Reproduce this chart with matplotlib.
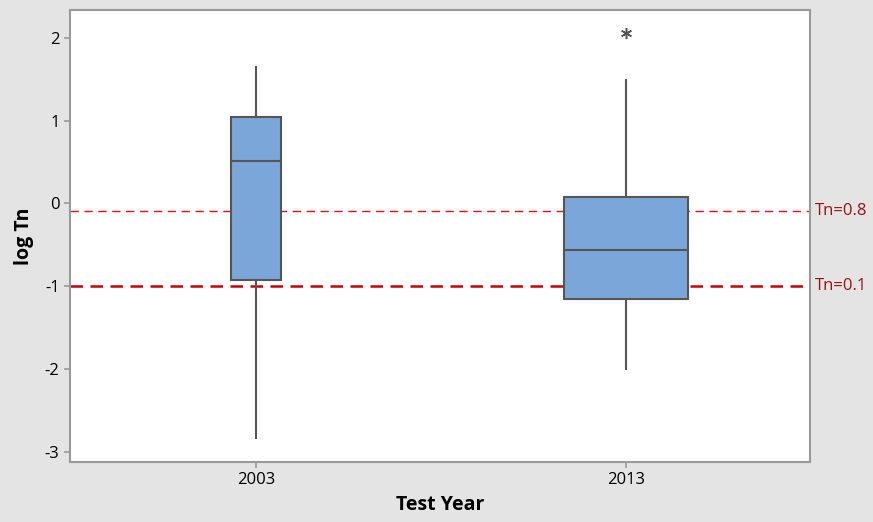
import matplotlib.pyplot as plt

plt.rcParams['font.family'] = ['Open Sans', 'DejaVu Sans']
plt.rcParams['axes.unicode_minus'] = False

years = ['2003', '2013']
whislo = [-2.83, -2.00]
q1 = [-0.93, -1.16]
med = [0.51, -0.56]
q3 = [1.04, 0.08]
whishi = [1.65, 1.49]
fliers = [[], [2.06]]
box_widths = [0.135, 0.335]

ref_tn = [0.8, 0.1]
ref_y = [-0.097, -1.0]
ref_labels = ['Tn=0.8', 'Tn=0.1']

stats = []
for i in range(len(years)):
    stats.append(dict(label=years[i], whislo=whislo[i], q1=q1[i], med=med[i],
                      q3=q3[i], whishi=whishi[i], fliers=fliers[i]))

fig = plt.figure(figsize=(8.73, 5.22), dpi=100)
fig.patch.set_facecolor('#e4e4e4')
ax = fig.add_axes([70 / 873, 60 / 522, 740 / 873, 452 / 522])

edge = '#555555'
ax.bxp(stats, positions=[1, 2], widths=box_widths, patch_artist=True, showcaps=False,
       boxprops=dict(facecolor='#7ba6d9', edgecolor=edge, linewidth=1.5),
       whiskerprops=dict(color=edge, linewidth=1.5),
       medianprops=dict(color=edge, linewidth=1.5),
       flierprops=dict(marker=(6, 2, 0), markersize=8, markeredgecolor=edge,
                       markeredgewidth=1.1))

# reference lines, drawn under the boxes
ax.axhline(ref_y[0], color='#e81010', linestyle=(0, (6, 4)), linewidth=1.0, zorder=0.5)
ax.axhline(ref_y[1], color='#c80000', linestyle=(0, (5, 3)), linewidth=1.8, zorder=0.5)
for y, lab in zip(ref_y, ref_labels):
    ax.text(1.006, y, lab, transform=ax.get_yaxis_transform(), color='#9c1010',
            fontsize=12, va='center', ha='left')

ax.set_xlim(0.497, 2.497)
ax.set_ylim(-3.124, 2.335)
ax.set_yticks([-3, -2, -1, 0, 1, 2])
ax.set_xticks([1, 2])
ax.set_xticklabels(years)

for s in ax.spines.values():
    s.set_color('#9a9a9a')
    s.set_linewidth(1.5)
ax.tick_params(colors='#9a9a9a', labelcolor='black', labelsize=12, length=4, width=1.2)
ax.set_xlabel('Test Year', fontsize=14, fontweight='bold', labelpad=5)
ax.set_ylabel('log Tn', fontsize=14, fontweight='bold', labelpad=8)

fig.savefig('out.png', dpi=100, facecolor=fig.get_facecolor())
